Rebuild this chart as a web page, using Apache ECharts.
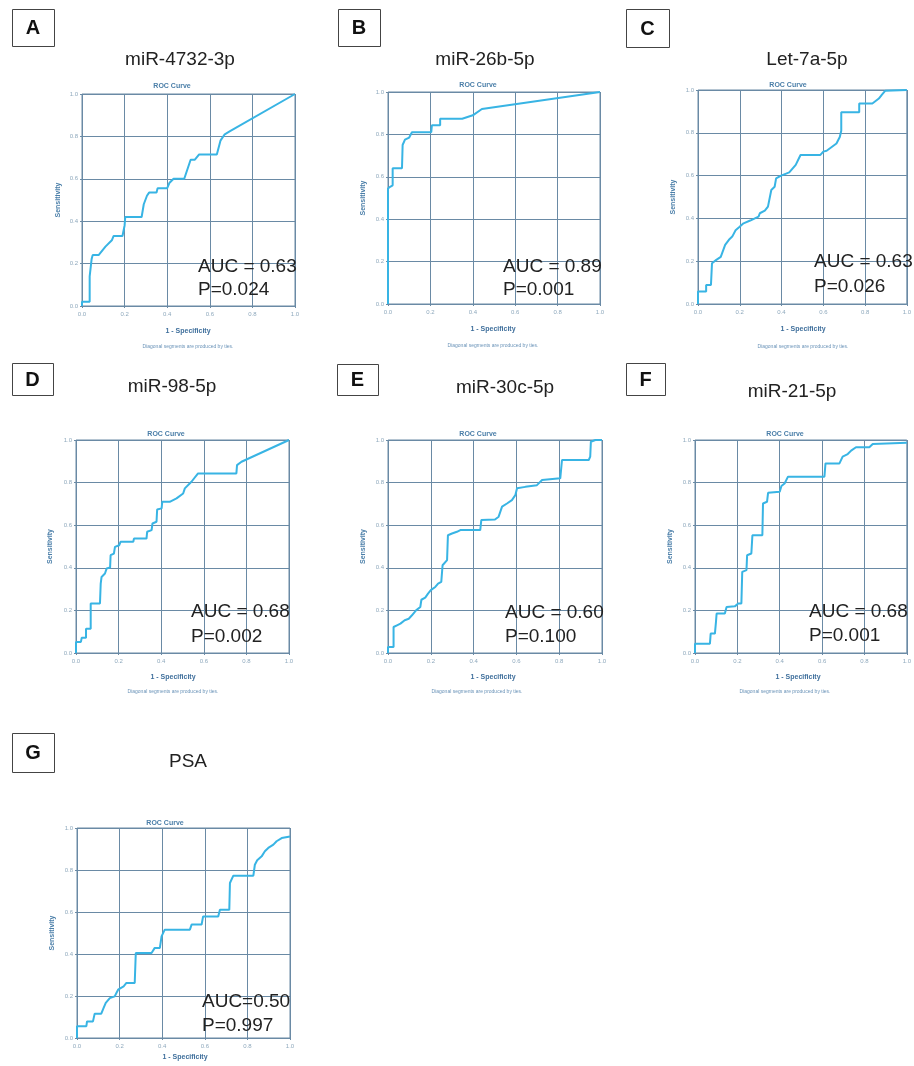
<!DOCTYPE html>
<html><head><meta charset="utf-8">
<script src="https://cdn.jsdelivr.net/npm/echarts@6/dist/echarts.min.js"></script>
<style>html,body{margin:0;padding:0;background:#fff}#c{width:914px;height:1066px}</style>
</head><body><div id="c"></div>
<script>
// ---- data ----
const panelLetters = ['A','B','C','D','E','F','G'];
const panelTitles = ['miR-4732-3p','miR-26b-5p','Let-7a-5p','miR-98-5p','miR-30c-5p','miR-21-5p','PSA'];
const aucLabels = ['AUC = 0.63','AUC = 0.89','AUC = 0.63','AUC = 0.68','AUC = 0.60','AUC = 0.68','AUC=0.50'];
const pLabels = ['P=0.024','P=0.001','P=0.026','P=0.002','P=0.100','P=0.001','P=0.997'];
const tickLabels = ['0.0','0.2','0.4','0.6','0.8','1.0'];

const rocA = [[0,0],[0,0.02],[0.036,0.02],[0.036,0.14],[0.045,0.22],[0.05,0.24],[0.078,0.24],[0.11,0.28],[0.14,0.31],[0.148,0.33],[0.19,0.33],[0.2,0.38],[0.203,0.42],[0.28,0.42],[0.29,0.48],[0.305,0.52],[0.315,0.535],[0.35,0.535],[0.355,0.556],[0.40,0.556],[0.41,0.58],[0.43,0.60],[0.48,0.60],[0.51,0.69],[0.53,0.69],[0.55,0.715],[0.633,0.715],[0.65,0.78],[0.67,0.81],[0.695,0.825],[1,1]];
const rocB = [[0,0],[0,0.545],[0.01,0.553],[0.022,0.56],[0.022,0.64],[0.066,0.64],[0.069,0.75],[0.08,0.775],[0.1,0.785],[0.113,0.81],[0.204,0.81],[0.207,0.843],[0.246,0.843],[0.246,0.874],[0.35,0.874],[0.40,0.89],[0.443,0.92],[1,1]];
const rocC = [[0,0],[0,0.058],[0.039,0.058],[0.039,0.089],[0.062,0.089],[0.067,0.19],[0.086,0.205],[0.109,0.22],[0.13,0.276],[0.148,0.3],[0.164,0.315],[0.18,0.345],[0.198,0.36],[0.218,0.377],[0.25,0.39],[0.29,0.408],[0.296,0.424],[0.32,0.436],[0.335,0.455],[0.351,0.533],[0.367,0.548],[0.374,0.587],[0.398,0.6],[0.437,0.615],[0.468,0.65],[0.491,0.696],[0.585,0.696],[0.6,0.712],[0.616,0.716],[0.663,0.75],[0.679,0.78],[0.686,0.81],[0.686,0.896],[0.772,0.896],[0.772,0.937],[0.835,0.937],[0.866,0.96],[0.88,0.977],[0.897,0.997],[0.9,1],[1,1]];
const rocD = [[0,0],[0,0.052],[0.023,0.052],[0.027,0.072],[0.047,0.072],[0.047,0.114],[0.069,0.114],[0.069,0.232],[0.1125,0.232],[0.116,0.326],[0.12,0.357],[0.136,0.373],[0.144,0.397],[0.16,0.401],[0.1625,0.459],[0.178,0.467],[0.183,0.498],[0.203,0.506],[0.209,0.522],[0.269,0.522],[0.272,0.537],[0.331,0.537],[0.334,0.569],[0.355,0.577],[0.359,0.608],[0.378,0.616],[0.381,0.674],[0.402,0.679],[0.405,0.71],[0.44,0.71],[0.472,0.726],[0.503,0.749],[0.511,0.773],[0.542,0.804],[0.573,0.843],[0.753,0.843],[0.756,0.882],[0.777,0.898],[1,1]];
const rocE = [[0,0],[0,0.028],[0.026,0.028],[0.026,0.122],[0.042,0.13],[0.058,0.138],[0.078,0.154],[0.097,0.161],[0.112,0.177],[0.131,0.2],[0.151,0.216],[0.156,0.25],[0.174,0.26],[0.187,0.279],[0.2,0.295],[0.221,0.31],[0.234,0.326],[0.249,0.334],[0.255,0.412],[0.276,0.436],[0.28,0.553],[0.299,0.561],[0.322,0.569],[0.338,0.577],[0.431,0.577],[0.436,0.624],[0.5,0.627],[0.517,0.64],[0.533,0.687],[0.556,0.702],[0.579,0.718],[0.595,0.741],[0.603,0.773],[0.642,0.78],[0.696,0.788],[0.72,0.812],[0.805,0.82],[0.813,0.906],[0.938,0.906],[0.945,0.922],[0.948,0.992],[0.969,1],[1,1]];
const rocF = [[0,0],[0,0.044],[0.0705,0.044],[0.074,0.091],[0.094,0.091],[0.099,0.146],[0.102,0.185],[0.141,0.185],[0.149,0.216],[0.188,0.219],[0.204,0.232],[0.219,0.232],[0.223,0.381],[0.243,0.389],[0.246,0.459],[0.266,0.467],[0.271,0.553],[0.318,0.553],[0.321,0.702],[0.34,0.71],[0.345,0.752],[0.4,0.757],[0.408,0.784],[0.423,0.796],[0.439,0.828],[0.611,0.828],[0.616,0.89],[0.682,0.89],[0.697,0.922],[0.721,0.934],[0.737,0.95],[0.76,0.966],[0.823,0.966],[0.839,0.981],[1,0.987]];
const rocG = [[0,0],[0,0.056],[0.044,0.056],[0.047,0.079],[0.075,0.079],[0.083,0.116],[0.114,0.116],[0.125,0.143],[0.135,0.167],[0.154,0.19],[0.177,0.198],[0.185,0.214],[0.193,0.23],[0.219,0.246],[0.232,0.262],[0.271,0.262],[0.276,0.405],[0.35,0.405],[0.365,0.429],[0.389,0.429],[0.397,0.484],[0.412,0.516],[0.53,0.516],[0.538,0.54],[0.585,0.54],[0.592,0.579],[0.663,0.579],[0.671,0.611],[0.715,0.611],[0.718,0.738],[0.734,0.773],[0.828,0.773],[0.835,0.825],[0.846,0.846],[0.867,0.865],[0.882,0.889],[0.898,0.905],[0.922,0.921],[0.937,0.937],[0.961,0.952],[1,0.96]];
const rocCurves = [rocA, rocB, rocC, rocD, rocE, rocF, rocG];

// ---- layout (pixels) ----
const layout = [
  {g:[82,94,213,212],  box:[12,9,42,37],   title:[180,60],  roc:[172,86],  sens:58,  auc:[198,267,290], spec:[188,331], diag:[188,347]},
  {g:[388,92,212,212], box:[338,9,42,37],  title:[485,60],  roc:[478,85],  sens:363, auc:[503,267,290], spec:[493,329], diag:[493,346]},
  {g:[698,90,213,214], box:[626,9,43,38],  title:[807,60],  roc:[788,85],  sens:673, auc:[814,262,287], spec:[803,329], diag:[803,347]},
  {g:[76,440,213,213], box:[12,363,41,32], title:[172,387], roc:[166,434], sens:50,  auc:[191,612,637], spec:[173,677], diag:[173,692]},
  {g:[388,440,214,213],box:[337,364,41,31],title:[505,388], roc:[478,434], sens:363, auc:[505,613,637], spec:[493,677], diag:[477,692]},
  {g:[695,440,213,213],box:[626,363,39,32],title:[792,392], roc:[785,434], sens:670, auc:[809,612,636], spec:[798,677], diag:[785,692]},
  {g:[77,828,213,210], box:[12,733,42,39], title:[188,762], roc:[165,823], sens:52,  auc:[202,1002,1026], spec:[185,1057], diag:null}
];

const FONT = '"Liberation Sans", Arial, sans-serif';
const gridColor = '#6a8aa5';
const lightText = '#8fa9bd';
const blueText = '#4a7ea8';

const grids = [], xAxes = [], yAxes = [], series = [], graphics = [];
layout.forEach((L, i) => {
  grids.push({left:L.g[0], top:L.g[1], width:L.g[2], height:L.g[3], show:true,
    borderColor:gridColor, borderWidth:1, backgroundColor:'transparent', containLabel:false});
  const axisCommon = {
    type:'value', min:0, max:1, interval:0.2, gridIndex:i,
    axisLine:{show:false},
    axisTick:{show:true, length:2, lineStyle:{color:gridColor}},
    splitLine:{show:true, lineStyle:{color:gridColor, width:1}},
    axisLabel:{fontSize:6, color:lightText, fontFamily:FONT,
      formatter:(v)=>tickLabels[Math.round(v*5)]}
  };
  xAxes.push(Object.assign({}, axisCommon, {axisLabel:Object.assign({}, axisCommon.axisLabel, {margin:5})}));
  yAxes.push(Object.assign({}, axisCommon, {axisLabel:Object.assign({}, axisCommon.axisLabel, {margin:4})}));
  series.push({type:'line', xAxisIndex:i, yAxisIndex:i, data:rocCurves[i], showSymbol:false,
    symbol:'none', lineStyle:{color:'#38b4e4', width:2}, animation:false, silent:true});

  graphics.push({type:'rect', shape:{x:L.box[0]+0.5, y:L.box[1]+0.5, width:L.box[2], height:L.box[3]},
    style:{fill:'#fff', stroke:'#444', lineWidth:1}});
  graphics.push({type:'text', x:L.box[0]+L.box[2]/2, y:L.box[1]+L.box[3]/2+1,
    style:{text:panelLetters[i], font:'bold 20px '+FONT, fill:'#111', align:'center', verticalAlign:'middle'}});
  graphics.push({type:'text', x:L.title[0], y:L.title[1],
    style:{text:panelTitles[i], font:'19px '+FONT, fill:'#222', align:'center', verticalAlign:'middle'}});
  graphics.push({type:'text', x:L.roc[0], y:L.roc[1],
    style:{text:'ROC Curve', font:'bold 7px '+FONT, fill:blueText, align:'center', verticalAlign:'middle'}});
  graphics.push({type:'text', x:L.sens, y:L.g[1]+L.g[3]/2, rotation:Math.PI/2,
    style:{text:'Sensitivity', font:'bold 7px '+FONT, fill:blueText, align:'center', verticalAlign:'middle'}});
  graphics.push({type:'text', x:L.spec[0], y:L.spec[1],
    style:{text:'1 - Specificity', font:'bold 7px '+FONT, fill:'#3f6f9c', align:'center', verticalAlign:'middle'}});
  if (L.diag) graphics.push({type:'text', x:L.diag[0], y:L.diag[1],
    style:{text:'Diagonal segments are produced by ties.', font:'5px '+FONT, fill:'#6a93b8', align:'center', verticalAlign:'middle'}});
  graphics.push({type:'text', x:L.auc[0], y:L.auc[1], z:100,
    style:{text:aucLabels[i], font:'19px '+FONT, fill:'#222', align:'left', verticalAlign:'middle'}});
  graphics.push({type:'text', x:L.auc[0], y:L.auc[2], z:100,
    style:{text:pLabels[i], font:'19px '+FONT, fill:'#222', align:'left', verticalAlign:'middle'}});
});

const chart = echarts.init(document.getElementById('c'), null, {renderer:'canvas'});
chart.setOption({
  backgroundColor:'#fff',
  animation:false,
  grid:grids, xAxis:xAxes, yAxis:yAxes, series:series,
  graphic:{elements:graphics}
});
</script></body></html>
